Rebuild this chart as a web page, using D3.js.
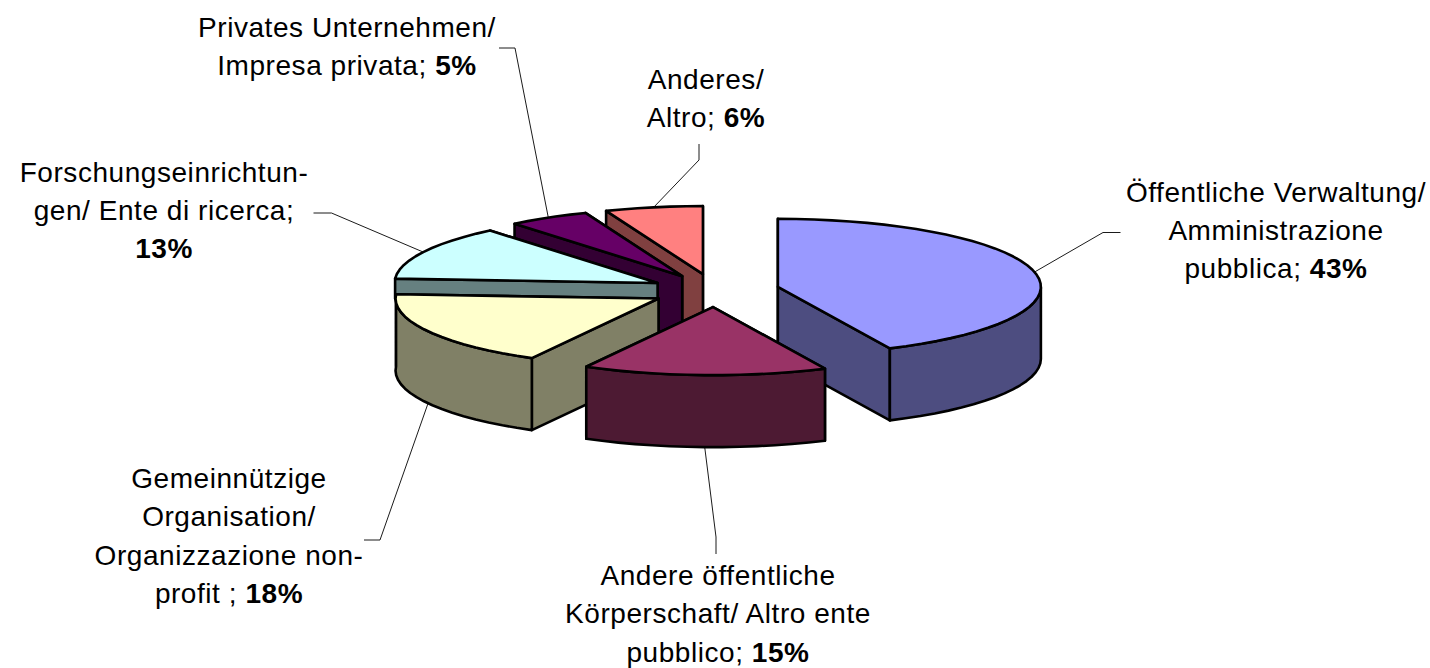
<!DOCTYPE html>
<html>
<head>
<meta charset="utf-8">
<script src="https://cdnjs.cloudflare.com/ajax/libs/d3/7.8.5/d3.min.js"></script>
<style>
html,body{margin:0;padding:0;background:#fff;overflow:hidden}
svg{display:block}
text{font-family:"Liberation Sans",Arial,sans-serif;font-size:28px;letter-spacing:0.55px;fill:#000}
</style>
</head>
<body>
<svg id="chart" width="1430" height="668"></svg>
<script>
// Data (clockwise from 12 o'clock)
const categories = ["Öffentliche Verwaltung/ Amministrazione pubblica","Andere öffentliche Körperschaft/ Altro ente pubblico","Gemeinnützige Organisation/ Organizzazione non-profit","Forschungseinrichtungen/ Ente di ricerca","Privates Unternehmen/ Impresa privata","Anderes/ Altro"];
const values = [43, 15, 18, 13, 5, 6];
const labelLines = [
  ["Öffentliche Verwaltung/","Amministrazione","pubblica; "],
  ["Andere öffentliche","Körperschaft/ Altro ente","pubblico; "],
  ["Gemeinnützige","Organisation/","Organizzazione non-","profit ; "],
  ["Forschungseinrichtun-","gen/ Ente di ricerca;",""],
  ["Privates Unternehmen/","Impresa privata; "],
  ["Anderes/","Altro; "]
];
const topColors  = ["#9999FF","#993366","#FFFFCC","#CCFFFF","#660066","#FF8080"];
const sideColors = ["#4D4D80","#4D1A33","#808066","#668080","#330033","#804040"];

// Layout
const cx = 715, cy = 290.5, rx = 263, ry = 68, depth = 72, explode = 0.245;
const wallDepth = [72, 72, 72, 20, 72, 72]; // the fourth slice's walls are hidden below this by the third
const labelX = [1276, 718, 229, 164, 347, 706];
const labelY = [201.5, 585, 488, 181.5, 36.5, 89];
const lineGap = 38.4;
const leaderElbow = [[1103,232.5],[716,537],[380,540],[331.5,213],[515,48],[699,160]];
const leaderEnd   = [[1120.5,232.5],[716,554],[364,540],[313.5,213],[499,48],[699,144]];
const drawOrder = [5,4,3,2,0,1];

const x = d3.scaleLinear().domain([-1,1]).range([cx-rx,cx+rx]);
const y = d3.scaleLinear().domain([-1,1]).range([cy-ry,cy+ry]);

const pie = d3.pie().sort(null).startAngle(0).endAngle(2*Math.PI);
const arcs = pie(values);

const svg = d3.select("#chart");
const line = d3.line();

function pt(arc, a, r, drop){
  const mid = (arc.startAngle+arc.endAngle)/2;
  const ox = explode*Math.sin(mid), oy = -explode*Math.cos(mid);
  return [x(ox + r*Math.sin(a)), y(oy - r*Math.cos(a)) + drop];
}
function rimAngles(a0,a1){
  const step = Math.PI/45;
  const n = Math.max(1,Math.ceil((a1-a0)/step));
  return d3.range(n+1).map(i=>a0+(a1-a0)*i/n);
}
function poly(g, pts, fill){
  g.append("path").attr("d",line(pts)+"Z").attr("fill",fill)
    .attr("stroke","#000").attr("stroke-width",2.6).attr("stroke-linejoin","round");
}

drawOrder.forEach(i=>{
  const arc = arcs[i];
  const g = svg.append("g").attr("class","slice").attr("data-name",categories[i]);
  // radial walls, back one first
  const walls = [arc.startAngle, arc.endAngle].sort((a,b)=>(-Math.cos(a))-(-Math.cos(b)));
  const d = wallDepth[i];
  walls.forEach(a=>{
    poly(g,[pt(arc,0,0,0),pt(arc,a,1,0),pt(arc,a,1,d),pt(arc,0,0,d)],sideColors[i]);
  });
  // outer wall: front half, running on to the slice's end if it stops just past the left extreme
  const lo = Math.max(arc.startAngle,Math.PI/2);
  const hi = arc.endAngle < 1.5*Math.PI+0.1 ? arc.endAngle : Math.min(arc.endAngle,1.5*Math.PI);
  if(hi>lo){
    const as = rimAngles(lo,hi);
    poly(g, as.map(a=>pt(arc,a,1,0)).concat(as.slice().reverse().map(a=>pt(arc,a,1,d))), sideColors[i]);
  }
  // top
  poly(g,[pt(arc,0,0,0)].concat(rimAngles(arc.startAngle,arc.endAngle).map(a=>pt(arc,a,1,0))),topColors[i]);
});

// leader lines
arcs.forEach((arc,i)=>{
  const mid = (arc.startAngle+arc.endAngle)/2;
  const drop = Math.cos(mid)<0 ? depth : 0;
  svg.append("path")
    .attr("d",line([pt(arc,mid,1,drop),leaderElbow[i],leaderEnd[i]]))
    .attr("fill","none").attr("stroke","#000").attr("stroke-width",0.9);
});

// labels
arcs.forEach((arc,i)=>{
  const t = svg.append("text").attr("text-anchor","middle");
  labelLines[i].forEach((s,k)=>{
    const last = k===labelLines[i].length-1;
    const ts = t.append("tspan").attr("x",labelX[i]).attr("y",labelY[i]+k*lineGap);
    if(s) ts.append("tspan").text(s).style("white-space","pre");
    if(last) ts.append("tspan").attr("font-weight","bold").text(values[i]+"%");
  });
});
</script>
</body>
</html>
